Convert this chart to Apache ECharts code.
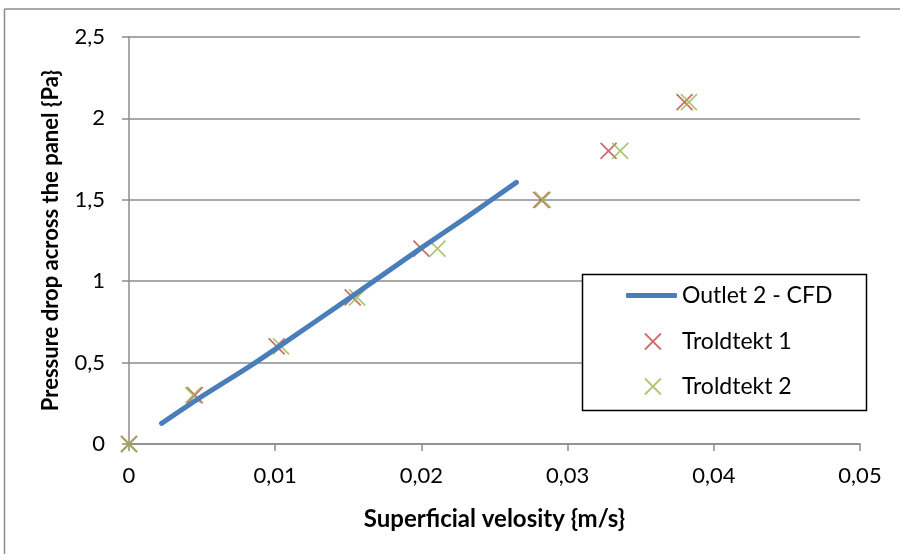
<!DOCTYPE html>
<html>
<head>
<meta charset="utf-8">
<script src="https://cdn.jsdelivr.net/npm/echarts@6/dist/echarts.min.js"></script>
<style>
    html, body { margin: 0; padding: 0; background: #fff; }
    #chart { width: 900px; height: 554px; }
</style>
</head>
<body>
<div id="chart"></div>
<script>
    // CFD curve (velocity m/s, pressure Pa)
    var cfdData = [
        [0.00223, 0.127], [0.0046, 0.27], [0.0083, 0.48], [0.0102, 0.595],
        [0.0153, 0.91], [0.0200, 1.205], [0.0232, 1.40], [0.0265, 1.607]
    ];
    // measurements
    var troldtekt1 = [
        [0, 0], [0.0045, 0.3], [0.0101, 0.6], [0.0153, 0.9],
        [0.0200, 1.2], [0.0282, 1.5], [0.0328, 1.8], [0.0380, 2.1]
    ];
    var troldtekt2 = [
        [0, 0], [0.0044, 0.3], [0.0104, 0.6], [0.0156, 0.9],
        [0.0211, 1.2], [0.0283, 1.5], [0.0336, 1.8], [0.0383, 2.1]
    ];
    var seriesNames = ['Outlet 2 - CFD', 'Troldtekt 1', 'Troldtekt 2'];

    var cross = 'path://M0,0L10,10M10,0L0,10';
    var font = 'Lato';
    var gray = '#8c8c8c';

    var myChart = echarts.init(document.getElementById('chart'));

    function crossLegend(name, color, top) {
        return {
            data: [{ name: name, icon: cross }],
            left: 644,
            top: top,
            orient: 'vertical',
            padding: 0,
            itemWidth: 16,
            itemHeight: 16,
            itemStyle: { color: color, borderColor: color, borderWidth: 1.8 },
            textStyle: { fontFamily: font, fontSize: 23, color: '#000', padding: [0, 0, 0, 16] },
            selectedMode: false,
            z: 20
        };
    }

    var option = {
        animation: false,
        backgroundColor: '#fff',
        grid: { left: 129, right: 40, top: 37, bottom: 110 },
        xAxis: {
            type: 'value',
            min: 0,
            max: 0.05,
            interval: 0.01,
            name: 'Superficial velosity {m/s}',
            nameLocation: 'middle',
            nameGap: 63,
            nameTextStyle: { fontFamily: font, fontSize: 24, fontWeight: 'bold', color: '#000' },
            axisLine: { lineStyle: { color: gray, width: 1.5 } },
            axisTick: { show: true, length: 7, lineStyle: { color: gray, width: 1.5 } },
            axisLabel: {
                margin: 21,
                fontFamily: font, fontSize: 22, color: '#000',
                formatter: function (v) { return String(+v.toFixed(2)).replace('.', ','); }
            },
            splitLine: { show: false }
        },
        yAxis: {
            type: 'value',
            min: 0,
            max: 2.5,
            interval: 0.5,
            name: 'Pressure drop across the panel {Pa}',
            nameLocation: 'middle',
            nameGap: 67,
            nameTextStyle: { fontFamily: font, fontSize: 22, fontWeight: 'bold', color: '#000' },
            axisLine: { show: true, lineStyle: { color: gray, width: 1.5 } },
            axisTick: { show: true, length: 7, lineStyle: { color: gray, width: 1.5 } },
            axisLabel: {
                margin: 24,
                fontFamily: font, fontSize: 22, color: '#000',
                formatter: function (v) { return String(v).replace('.', ','); }
            },
            splitLine: { show: true, lineStyle: { color: gray, width: 1.5 } }
        },
        legend: [
            {
                data: [{ name: seriesNames[0], icon: 'roundRect' }],
                left: 626,
                top: 284,
                padding: 0,
                itemWidth: 51,
                itemHeight: 5,
                itemStyle: { color: '#4a7ebb' },
                textStyle: { fontFamily: font, fontSize: 23, color: '#000' },
                selectedMode: false,
                z: 20
            },
            crossLegend(seriesNames[1], '#be4b48', 330),
            crossLegend(seriesNames[2], '#98b954', 375)
        ],
        graphic: [
            // chart frame (top and left edges)
            { type: 'line', shape: { x1: 4.5, y1: 9, x2: 900, y2: 9 }, style: { stroke: gray, lineWidth: 1.5 }, z: 1 },
            { type: 'line', shape: { x1: 4.5, y1: 9, x2: 4.5, y2: 554 }, style: { stroke: gray, lineWidth: 1.5 }, z: 1 },
            // legend box
            { type: 'rect', shape: { x: 582.5, y: 274.5, width: 284, height: 136 },
              style: { fill: '#fff', stroke: '#000', lineWidth: 1.5 }, z: 10 }
        ],
        series: [
            {
                name: seriesNames[1],
                type: 'scatter',
                data: troldtekt1,
                symbol: cross,
                symbolSize: 16,
                itemStyle: { color: '#be4b48', borderColor: '#be4b48', borderWidth: 1.8 },
                z: 2
            },
            {
                name: seriesNames[2],
                type: 'scatter',
                data: troldtekt2,
                symbol: cross,
                symbolSize: 16,
                itemStyle: { color: '#98b954', borderColor: '#98b954', borderWidth: 1.8 },
                z: 2
            },
            {
                name: seriesNames[0],
                type: 'line',
                data: cfdData,
                symbol: 'none',
                smooth: 0.3,
                lineStyle: { color: '#4a7ebb', width: 5, cap: 'round' },
                itemStyle: { color: '#4a7ebb' },
                z: 3
            }
        ]
    };

    myChart.setOption(option);
</script>
</body>
</html>
